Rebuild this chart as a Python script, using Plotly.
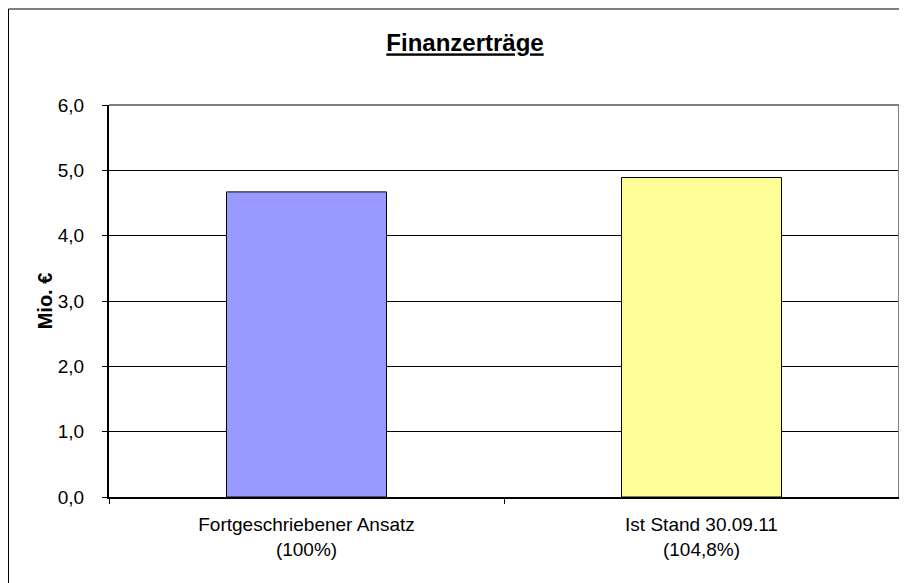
import plotly.graph_objects as go

# chart data
categories = ["Fortgeschriebener Ansatz<br>(100%)", "Ist Stand 30.09.11<br>(104,8%)"]
values = [4.67, 4.89]
bar_colours = ["#9999FF", "#FFFF99"]
y_ticks = [0, 1, 2, 3, 4, 5, 6]
y_tick_labels = ["0,0", "1,0", "2,0", "3,0", "4,0", "5,0", "6,0"]

width = 907
height = 583
# page body has an 8px margin, so the figure starts at (8, 8) in the window
off = 8
font_name = "Liberation Sans, Arial, sans-serif"

plot_l, plot_r, plot_t, plot_b = 109 - off, 899 - off, 105 - off, 497 - off
pw = plot_r - plot_l
ph = plot_b - plot_t

fig = go.Figure()
fig.add_bar(x=categories, y=values, width=0.405,
            marker_color=bar_colours, marker_line_color="black", marker_line_width=1)

fig.update_layout(width=width, height=height,
                  margin=dict(l=plot_l, r=width - plot_r, t=plot_t, b=height - plot_b),
                  plot_bgcolor="white", paper_bgcolor="white",
                  font=dict(family=font_name, size=19, color="black"),
                  showlegend=False)

fig.update_layout(title=dict(text="<b><u>Finanzerträge</u></b>", font=dict(size=24),
                             x=(465 - off) / width, xref="container", xanchor="center",
                             y=1 - (43 - off) / height, yref="container", yanchor="middle"))

fig.update_yaxes(range=[0, 6], tickvals=y_ticks, ticktext=y_tick_labels,
                 showgrid=True, gridcolor="black", gridwidth=1,
                 showline=True, linecolor="black", linewidth=2,
                 ticks="outside", ticklen=5, tickcolor="black", tickwidth=1,
                 ticklabelstandoff=14, zeroline=False,
                 title=dict(text="<b>Mio. €</b>", font=dict(size=20), standoff=0))
fig.update_xaxes(showline=True, linecolor="black", linewidth=2,
                 ticks="outside", ticklen=5, tickcolor="black", tickwidth=1,
                 tickson="boundaries", showgrid=False, ticklabelstandoff=9)

# grey frame on top and right of plot area, black outer chart border
fig.add_shape(type="line", xref="paper", yref="paper", x0=0, x1=1, y0=1, y1=1,
              line=dict(color="#808080", width=2))
fig.add_shape(type="line", xref="paper", yref="paper", x0=1, x1=1, y0=0, y1=1,
              line=dict(color="#808080", width=2))
fig.add_shape(type="rect", xref="paper", yref="paper",
              x0=(0.5 - plot_l) / pw, x1=(940 - plot_l) / pw,
              y0=(plot_b - 620) / ph, y1=(plot_b - 1) / ph,
              line=dict(color="black", width=1), fillcolor="rgba(0,0,0,0)")

fig.write_html("out.html")
